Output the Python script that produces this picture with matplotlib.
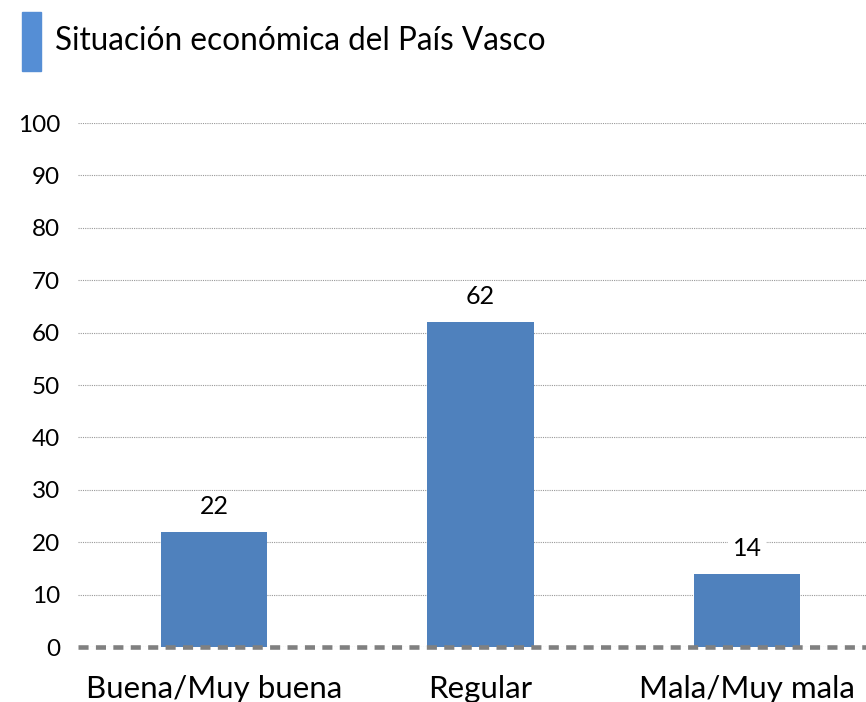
import matplotlib.pyplot as plt
import matplotlib.patches as mpatches

# Datos
categorias = ["Buena/Muy buena", "Regular", "Mala/Muy mala"]
valores = [22, 62, 14]
titulo = "Situación económica del País Vasco"
ticks_y = [0, 10, 20, 30, 40, 50, 60, 70, 80, 90, 100]

plt.rcParams['font.family'] = ['Lato', 'DejaVu Sans']

fig = plt.figure(figsize=(8.66, 7.02), dpi=100)
ax = fig.add_axes([78 / 866, 1 - 647 / 702, 1 - 78 / 866, (647 - 123) / 702])

x = list(range(len(categorias)))
ax.bar(x, valores, width=0.4, color="#4F81BD", zorder=2)

for xi, v in zip(x, valores):
    ax.text(xi, v + 4.8, str(v), ha="center", va="center", fontsize=18,
            bbox=dict(facecolor="white", edgecolor="none", pad=3), zorder=3)

ax.set_ylim(0, 100)
ax.set_xlim(-0.51, 2.446)
ax.set_yticks(ticks_y)
ax.yaxis.grid(True, linestyle=(0, (1, 1)), color="#999999", linewidth=0.8, zorder=0)
ax.axhline(0, color="#808080", linestyle=(0, (2.2, 1.6)), linewidth=3.3,
           zorder=4, clip_on=False)
ax.set_xticks(x)
ax.set_xticklabels(categorias, fontsize=22.5)
ax.tick_params(axis="y", labelsize=17.5, length=0, pad=13)
ax.tick_params(axis="x", length=0, pad=20)
for s in ax.spines.values():
    s.set_visible(False)

# Título con marca azul
fig.patches.append(mpatches.Rectangle((22 / 866, 1 - 71 / 702), 19 / 866, 59 / 702,
                                      transform=fig.transFigure, color="#558ED5"))
fig.text(55 / 866, 1 - 41 / 702, titulo, fontsize=22.7, va="center", ha="left")

fig.savefig("out.png", dpi=100)
